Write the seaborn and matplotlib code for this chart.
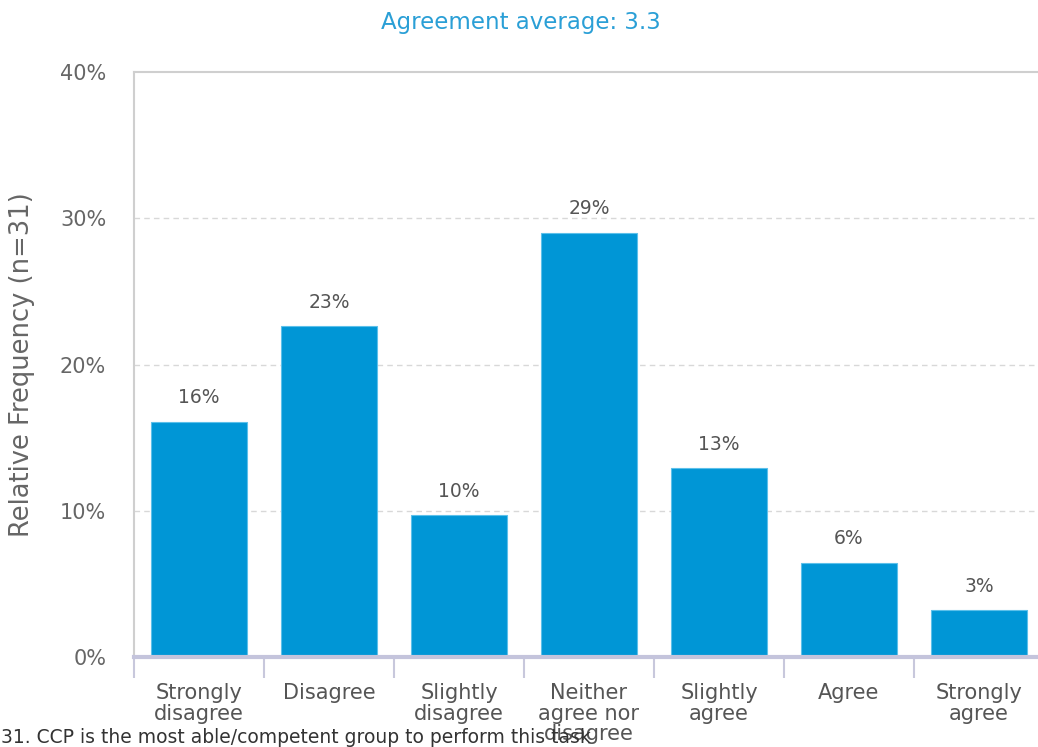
import matplotlib
matplotlib.use("Agg")
import matplotlib.pyplot as plt
import seaborn as sns
import pandas as pd
from matplotlib.ticker import FixedLocator, FuncFormatter

categories = ["Strongly\ndisagree", "Disagree", "Slightly\ndisagree",
              "Neither\nagree nor\ndisagree", "Slightly\nagree", "Agree",
              "Strongly\nagree"]
percent = [16.1, 22.6, 9.7, 29.0, 12.9, 6.45, 3.2]
y_ticks = [0, 10, 20, 30, 40]
title_text = "Agreement average: 3.3"
y_label = "Relative Frequency (n=31)"
footer = "31. CCP is the most able/competent group to perform this task"

df = pd.DataFrame({"category": categories, "percent": percent})

sns.set_theme(style="white")
plt.rcParams["font.family"] = ["DejaVu Sans"]

fig = plt.figure(figsize=(10.38, 7.47), dpi=100)
ax = fig.add_axes([134 / 1038, 90 / 747, 910 / 1038, 585 / 747])

bar_color = "#0096d6"
sns.barplot(data=df, x="category", y="percent", color=bar_color,
            saturation=1, width=0.74, ax=ax, edgecolor="#5cc0ea",
            linewidth=0.8, zorder=3)

ax.set_xlim(-0.5, len(categories) - 0.5)
ax.set_ylim(0, 40)
ax.yaxis.set_major_locator(FixedLocator(y_ticks))
ax.yaxis.set_major_formatter(FuncFormatter(lambda v, p: f"{v:.0f}%"))

# dashed grid lines
for v in y_ticks[1:-1]:
    ax.axhline(v, color="#d8d8d8", linestyle=(0, (4, 3)), linewidth=1, zorder=1)

for spine in ["left", "top"]:
    ax.spines[spine].set_color("#cfcfcf")
    ax.spines[spine].set_linewidth(1.5)
ax.spines["right"].set_visible(False)
ax.spines["bottom"].set_color("#c4c4dc")
ax.spines["bottom"].set_linewidth(3)
ax.spines["bottom"].set_zorder(4)

# category separators below the axis
ax.set_xticks([i - 0.5 for i in range(len(categories) + 1)], minor=True)
ax.tick_params(axis="x", which="minor", length=15, width=1.5, color="#c8c8dc",
               bottom=True)
ax.tick_params(axis="x", which="major", length=0, pad=19, labelsize=15,
               labelcolor="#555555")
for lbl in ax.get_xticklabels():
    lbl.set_linespacing(1.02)
    lbl.set_verticalalignment("top")
ax.tick_params(axis="y", length=0, pad=20, labelsize=15, labelcolor="#666666")

ax.set_xlabel("")
ax.set_ylabel(y_label, fontsize=18.5, color="#666666", labelpad=18)

for i, v in enumerate(percent):
    ax.text(i, v + 1.0, f"{v:.0f}%", ha="center", va="bottom",
            fontsize=13.5, color="#555555")

fig.text(521 / 1038, 1 - 22 / 747, title_text, ha="center", va="center",
         fontsize=16.5, color="#2a9fd6")
fig.text(0.001, 0.0, footer, ha="left", va="bottom", fontsize=13.5,
         color="#333333")

fig.savefig("out.png", dpi=100)
